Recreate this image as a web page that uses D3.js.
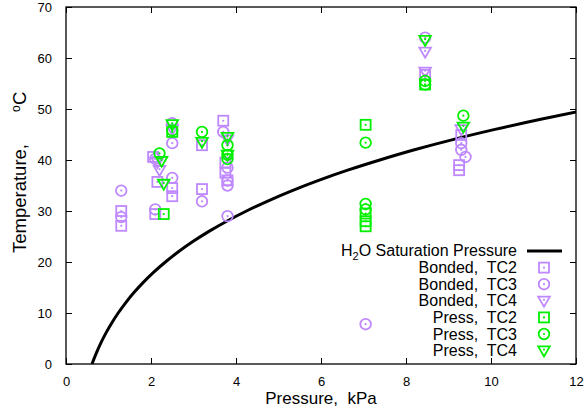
<!DOCTYPE html>
<html><head><meta charset="utf-8">
<script src="https://cdn.jsdelivr.net/npm/d3@7"></script>
<style>body{margin:0;background:#fff}svg{display:block}text{font-family:"Liberation Sans",Arial,sans-serif;fill:#000}</style>
</head><body>
<script>
// Saturation table (steam table values): temperature °C and pressure kPa
const satT = [0, 2, 4, 6, 8, 10, 12, 14, 16, 18, 20, 22, 24, 26, 28, 30, 32, 34, 36, 38, 40, 42, 44, 46, 48, 50];
const satP = [0.611, 0.706, 0.813, 0.935, 1.073, 1.228, 1.403, 1.599, 1.819, 2.065, 2.339, 2.645, 2.985, 3.363, 3.782, 4.247, 4.760, 5.324, 5.945, 6.628, 7.384, 8.199, 9.101, 10.094, 11.171, 12.352];

const bondedTC2P = [1.3, 1.3, 2.05, 2.15, 2.1, 2.5, 2.5, 3.2, 3.2, 3.7, 3.75, 3.75, 3.8, 8.45, 9.3, 9.25, 9.25];
const bondedTC2T = [30.0, 27.1, 40.6, 35.7, 29.4, 34.5, 32.9, 42.9, 34.3, 47.7, 39.5, 37.5, 36.0, 56.7, 44.9, 39.0, 38.0];
const bondedTC3P = [1.3, 1.3, 2.1, 2.1, 2.5, 2.5, 2.5, 3.2, 3.7, 3.8, 3.8, 3.8, 3.8, 7.05, 8.45, 9.3, 9.3, 9.4];
const bondedTC3T = [34.0, 28.8, 40.2, 30.3, 47.2, 43.3, 36.5, 31.9, 45.5, 38.5, 36.0, 35.0, 29.0, 7.8, 64.0, 43.3, 42.0, 40.6];
const bondedTC4P = [2.2, 2.15, 2.5, 3.8, 8.45, 8.45, 9.3];
const bondedTC4T = [38.0, 39.6, 46.0, 44.0, 61.2, 57.3, 46.0];
const pressTC2P = [2.3, 2.5, 7.05, 7.05, 7.05, 7.05, 8.45];
const pressTC2T = [29.4, 45.5, 46.9, 29.5, 28.0, 27.0, 54.8];
const pressTC3P = [2.2, 2.5, 3.2, 3.8, 3.8, 3.8, 7.05, 7.05, 7.05, 8.45, 8.45, 9.35];
const pressTC3T = [41.3, 45.8, 45.5, 42.9, 41.0, 40.2, 43.4, 31.4, 30.3, 55.5, 54.8, 48.7];
const pressTC4P = [2.25, 2.3, 2.5, 3.2, 3.8, 3.8, 8.45, 9.35];
const pressTC4T = [39.8, 35.3, 47.0, 43.5, 44.5, 41.0, 63.5, 46.5];

const xTicks = [0, 2, 4, 6, 8, 10, 12];
const yTicks = [0, 10, 20, 30, 40, 50, 60, 70];
const legendLabels = ["Bonded,  TC2", "Bonded,  TC3", "Bonded,  TC4", "Press,  TC2", "Press,  TC3", "Press,  TC4"];

const W = 586, H = 410;
const L = 66, R = 576, T = 7, B = 364;
const purple = "#bf88ff", green = "#00f000";

const svg = d3.select("body").append("svg").attr("width", W).attr("height", H);
const x = d3.scaleLinear().domain([0, 12]).range([L, R]);
const y = d3.scaleLinear().domain([0, 70]).range([B, T]);

svg.append("clipPath").attr("id", "clip").append("rect")
  .attr("x", L).attr("y", T).attr("width", R - L).attr("height", B - T);

// axes with inward ticks, mirrored
const tl = 6;
const gx = svg.append("g").attr("transform", `translate(0,${B})`)
  .call(d3.axisBottom(x).tickValues(xTicks).tickSize(-tl).tickPadding(tl + 7).tickFormat(d3.format("d")));
const gxt = svg.append("g").attr("transform", `translate(0,${T})`)
  .call(d3.axisTop(x).tickValues(xTicks).tickSize(-tl).tickFormat(""));
const gy = svg.append("g").attr("transform", `translate(${L},0)`)
  .call(d3.axisLeft(y).tickValues(yTicks).tickSize(-tl).tickPadding(tl + 8).tickFormat(d3.format("d")));
const gyr = svg.append("g").attr("transform", `translate(${R},0)`)
  .call(d3.axisRight(y).tickValues(yTicks).tickSize(-tl).tickFormat(""));
[gx, gxt, gy, gyr].forEach(g => {
  g.select(".domain").remove();
  g.selectAll("line").attr("stroke", "#000").attr("stroke-width", 1);
  g.selectAll("text").style("font-size", "13px").attr("fill", "#000").style("font-family", '"Liberation Sans",Arial,sans-serif');
});
svg.append("rect").attr("x", L).attr("y", T).attr("width", R - L).attr("height", B - T)
  .attr("fill", "none").attr("stroke", "#000").attr("stroke-width", 1.3);

// saturation curve
const satData = satT.map((t, i) => ({p: satP[i], t}));
svg.append("path").datum(satData).attr("clip-path", "url(#clip)")
  .attr("fill", "none").attr("stroke", "#000").attr("stroke-width", 3)
  .attr("d", d3.line().x(d => x(d.p)).y(d => y(d.t)).curve(d3.curveMonotoneY));

// markers
function marker(g, shape, color, cx, cy) {
  const s = g.append("g").attr("transform", `translate(${cx},${cy})`);
  const st = {fill: "none", stroke: color, "stroke-width": 1.8};
  let el;
  if (shape === "square") el = s.append("rect").attr("x", -5).attr("y", -5).attr("width", 10).attr("height", 10);
  else if (shape === "circle") el = s.append("circle").attr("r", 5.3);
  else el = s.append("path").attr("d", "M-5.8,-4.2L5.8,-4.2L0,5.8Z");
  Object.entries(st).forEach(([k, v]) => el.attr(k, v));
  s.append("circle").attr("r", 1.1).attr("fill", color).attr("cy", shape === "tri" ? -1 : 0);
}
const series = [
  {P: bondedTC2P, T: bondedTC2T, shape: "square", color: purple},
  {P: bondedTC3P, T: bondedTC3T, shape: "circle", color: purple},
  {P: bondedTC4P, T: bondedTC4T, shape: "tri", color: purple},
  {P: pressTC2P, T: pressTC2T, shape: "square", color: green},
  {P: pressTC3P, T: pressTC3T, shape: "circle", color: green},
  {P: pressTC4P, T: pressTC4T, shape: "tri", color: green}
];
const pts = svg.append("g").attr("clip-path", "url(#clip)");
series.forEach(s => s.P.forEach((p, i) => marker(pts, s.shape, s.color, x(p), y(s.T[i]))));

// legend
const lg = svg.append("g");
const lx = 517, ly0 = 251, dy = 16.6;
const t0 = lg.append("text").attr("x", lx).attr("y", ly0 + 5).attr("text-anchor", "end").style("font-size", "16px");
t0.append("tspan").text("H");
t0.append("tspan").text("2").style("font-size", "11px").attr("dy", 4);
t0.append("tspan").text("O Saturation Pressure").attr("dy", -4);
lg.append("line").attr("x1", 527).attr("x2", 562).attr("y1", ly0).attr("y2", ly0).attr("stroke", "#000").attr("stroke-width", 3);
series.forEach((s, i) => {
  const yy = ly0 + dy * (i + 1);
  lg.append("text").attr("x", lx).attr("y", yy + 5.5).attr("text-anchor", "end").style("font-size", "16px")
    .style("white-space", "pre").attr("xml:space", "preserve").text(legendLabels[i]);
  marker(lg, s.shape, s.color, 544, yy);
});

// axis titles
svg.append("text").attr("x", (L + R) / 2).attr("y", 404).attr("text-anchor", "middle")
  .style("font-size", "17px").attr("xml:space", "preserve").style("white-space", "pre").text("Pressure,  kPa");
const yt = svg.append("text").attr("transform", "translate(26,0) rotate(-90)").style("font-size", "18.5px");
yt.append("tspan").attr("x", -253).text("Temperature,");
yt.append("tspan").attr("x", -112).attr("dy", -6).style("font-size", "12px").text("o");
yt.append("tspan").attr("x", -105).attr("dy", 6).text("C");
</script>
</body></html>
